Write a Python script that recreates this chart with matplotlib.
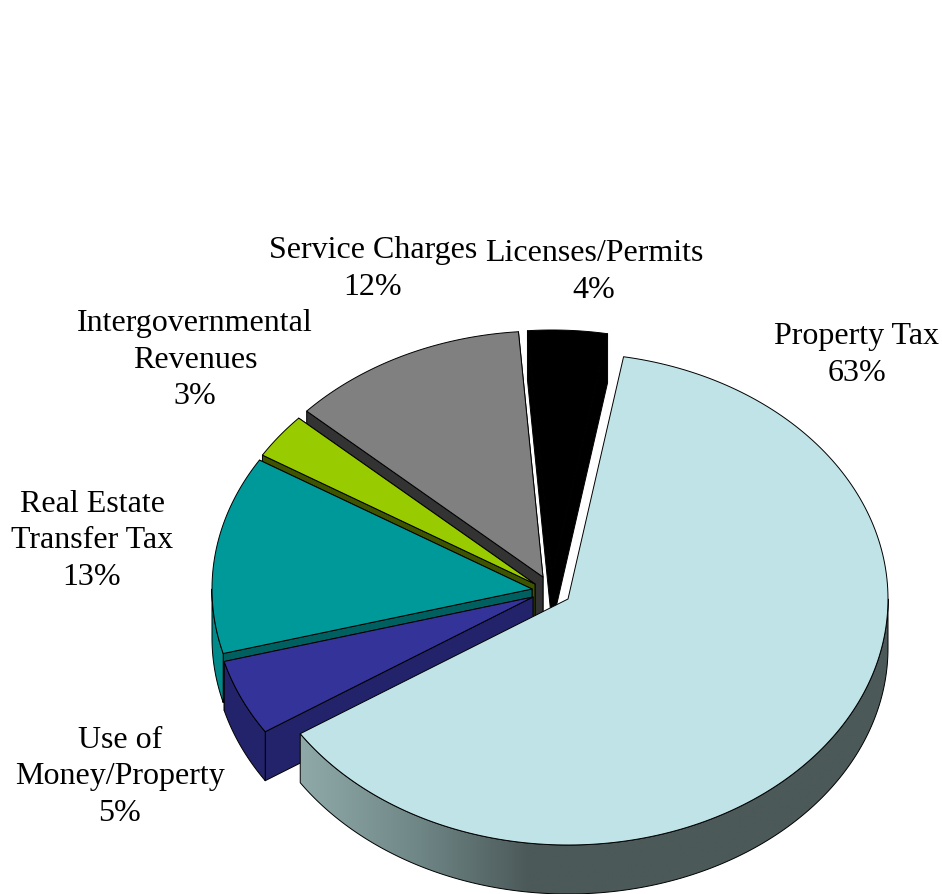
import numpy as np
import matplotlib
matplotlib.use('Agg')
import matplotlib.pyplot as plt
from matplotlib.patches import Polygon
from matplotlib.colors import LinearSegmentedColormap

plt.rcParams['font.family'] = ['Liberation Serif', 'DejaVu Serif']

# clockwise from the property tax slice
labels = ['Property Tax', 'Use of\nMoney/Property', 'Real Estate\nTransfer Tax',
          'Intergovernmental\nRevenues', 'Service Charges', 'Licenses/Permits']
values = [63, 5, 13, 3, 12, 4]
face_colors = ['#BFE3E6', '#333399', '#009999', '#99CC00', '#808080', '#000000']
wall_colors = ['#4C5959', '#23236B', '#006060', '#3F5400', '#333333', '#000000']
rim_colors = ['#4C5959', '#23236B', '#008A8A', '#3F5400', '#333333', '#000000']

# pie geometry in pixels
base = (533, 598)
rx, ry = 320, 246
depth = 49
start = 80
explode = [(35, 2), (0, 0), (-1, -8), (2, -13), (10, -20), (19, -21)]
label_pos = [(857, 355), (120, 777), (92, 541), (195, 360), (373, 269), (594, 272)]

fig = plt.figure(figsize=(9.42, 8.95), dpi=100)
ax = fig.add_axes([0, 0, 1, 1])

# angles for each slice, going clockwise
ends = start - 360 * np.cumsum(values) / np.sum(values)
starts = np.r_[start, ends[:-1]]


def arc(cx, cy, t1, t2, n=200):
    t = np.radians(np.linspace(t1, t2, n))
    return np.c_[cx + rx * np.cos(t), cy - ry * np.sin(t)]


edge = dict(edgecolor='black', linewidth=0.7, joinstyle='round')

# back slices first so the front ones paint over them
for i in range(len(values) - 1, -1, -1):
    cx = base[0] + explode[i][0]
    cy = base[1] + explode[i][1]
    top = arc(cx, cy, starts[i], ends[i])
    tip = np.array([[cx, cy]])
    lo, hi = sorted([starts[i] % 360, ends[i] % 360])

    if i == 0:
        # the big slice has a shaded rim that fades from left to right
        rim = arc(cx, cy, ends[0] + 360, 360)
        poly = np.r_[rim, (rim + [0, depth])[::-1]]
        wall = Polygon(poly, facecolor='none', zorder=-1.5, **edge)
        ax.add_patch(wall)
        cmap = LinearSegmentedColormap.from_list(
            'wall', [(0, '#8FA9A9'), (0.2, '#6F8686'), (0.38, '#4C5959'), (1, '#4C5959')])
        grad = np.linspace(0, 1, 256)[None, :]
        im = ax.imshow(grad, extent=(rim[0, 0], 900, 900, 590), cmap=cmap,
                       aspect='auto', zorder=-2, interpolation='bilinear')
        im.set_clip_path(wall)
    else:
        # cut walls, upper one first
        for end_pt in sorted((top[0], top[-1]), key=lambda p: p[1]):
            quad = np.array([tip[0], end_pt, end_pt + [0, depth], tip[0] + [0, depth]])
            ax.add_patch(Polygon(quad, facecolor=wall_colors[i], zorder=i * -10 + 1, **edge))
        # rim wall, only the part that faces the viewer
        if hi > 180:
            rim = arc(cx, cy, max(lo, 180), hi)
            poly = np.r_[rim, (rim + [0, depth])[::-1]]
            ax.add_patch(Polygon(poly, facecolor=rim_colors[i], zorder=i * -10 + 2, **edge))

    # top face
    ax.add_patch(Polygon(np.r_[tip, top], facecolor=face_colors[i], zorder=i * -10 + 3, **edge))

    ax.text(label_pos[i][0], label_pos[i][1], '%s\n%d%%' % (labels[i], values[i]),
            ha='center', va='center', fontsize=23, linespacing=1.33, color='black', zorder=10)

ax.set_xlim(0, 942)
ax.set_ylim(895, 0)
ax.axis('off')
fig.savefig('out.png', dpi=100, facecolor='white')
